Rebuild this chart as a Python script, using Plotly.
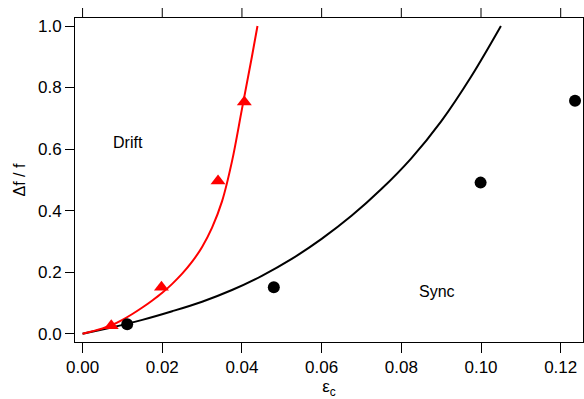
import plotly.graph_objects as go

# Data
sync_x = [0.0112, 0.048, 0.0999, 0.1236]
sync_y = [0.031, 0.151, 0.491, 0.757]

drift_x = [0.0072, 0.0198, 0.034, 0.0406]
drift_y = [0.026, 0.151, 0.496, 0.753]

sync_curve_x = [0.0, 0.0075, 0.015, 0.0225, 0.03, 0.0375, 0.045, 0.0525, 0.06, 0.0675,
                0.075, 0.0825, 0.09, 0.0975, 0.105]
sync_curve_y = [0.0, 0.021, 0.045, 0.073, 0.104, 0.142, 0.188, 0.243, 0.308, 0.383,
                0.47, 0.57, 0.69, 0.835, 1.0]

drift_curve_x = [0.0, 0.0025, 0.005, 0.0075, 0.010, 0.0125, 0.015, 0.0175, 0.020, 0.0225,
                 0.025, 0.0275, 0.030, 0.0325, 0.035, 0.0375, 0.040, 0.0425, 0.0439]
drift_curve_y = [0.0, 0.008, 0.017, 0.029, 0.045, 0.064, 0.085, 0.108, 0.133, 0.162,
                 0.195, 0.234, 0.282, 0.345, 0.43, 0.56, 0.73, 0.90, 1.0]

x_ticks = [0.0, 0.02, 0.04, 0.06, 0.08, 0.10, 0.12]
x_tick_labels = ["0.00", "0.02", "0.04", "0.06", "0.08", "0.10", "0.12"]
y_ticks = [0.0, 0.2, 0.4, 0.6, 0.8, 1.0]
y_tick_labels = ["0.0", "0.2", "0.4", "0.6", "0.8", "1.0"]

region_labels = ["Drift", "Sync"]
region_x = [0.0115, 0.089]
region_y = [0.623, 0.136]

FONT = "Liberation Sans, Arial, sans-serif"
X_RANGE = [-0.0019, 0.1256]
W, H = 584, 399
M = dict(l=75, r=1, t=18, b=57)
TOP_TICK_LEN = 10

fig = go.Figure()
fig.add_trace(go.Scatter(x=sync_curve_x, y=sync_curve_y, mode="lines",
                         line=dict(color="black", width=2, shape="spline", smoothing=1.0),
                         showlegend=False, hoverinfo="skip"))
fig.add_trace(go.Scatter(x=drift_curve_x, y=drift_curve_y, mode="lines",
                         line=dict(color="#ff0000", width=2, shape="spline", smoothing=1.0),
                         showlegend=False, hoverinfo="skip"))
fig.add_trace(go.Scatter(x=sync_x, y=sync_y, mode="markers",
                         marker=dict(symbol="circle", size=12, color="black"),
                         showlegend=False, cliponaxis=False))
fig.add_trace(go.Scatter(x=drift_x, y=drift_y, mode="markers",
                         marker=dict(symbol="triangle-up", size=13, color="#ff0000"),
                         showlegend=False))

for t, xx, yy in zip(region_labels, region_x, region_y):
    fig.add_annotation(x=xx, y=yy, text=t, showarrow=False,
                       font=dict(family=FONT, size=16, color="black"))

# top-side tick marks (the top frame carries ticks but no labels)
plot_h = H - M["t"] - M["b"]
for tv in x_ticks:
    fig.add_shape(type="line", xref="x", yref="paper", x0=tv, x1=tv,
                  y0=1.0, y1=1.0 + TOP_TICK_LEN / plot_h,
                  line=dict(color="black", width=1), layer="above")

fig.update_layout(
    width=W, height=H,
    margin=dict(**M, autoexpand=False),
    plot_bgcolor="white", paper_bgcolor="white",
    font=dict(family=FONT, size=17, color="black"),
    xaxis=dict(range=X_RANGE, tickvals=x_ticks, ticktext=x_tick_labels,
               showgrid=False, zeroline=False, showline=True, linecolor="black", linewidth=1,
               mirror=True, ticks="outside", ticklen=10, tickwidth=1, tickcolor="black",
               title=dict(text="ε<sub>c</sub>", standoff=2, font=dict(size=17))),
    yaxis=dict(range=[-0.027, 1.026], tickvals=y_ticks, ticktext=y_tick_labels,
               showgrid=False, zeroline=False, showline=True, linecolor="black", linewidth=1,
               mirror=True, ticks="outside", ticklen=9, tickwidth=1, tickcolor="black",
               title=dict(text="Δf / f", standoff=8, font=dict(size=16))),
)

fig.write_html("out.html", config={"displayModeBar": False},
               post_script="document.body.style.margin='0';document.body.style.overflow='hidden';")
